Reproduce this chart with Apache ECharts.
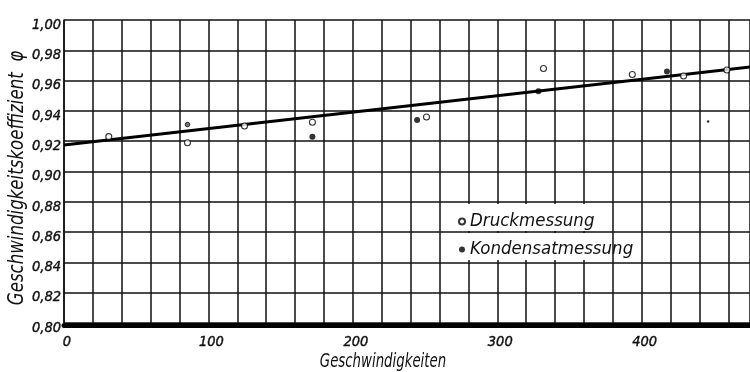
<!DOCTYPE html>
<html>
<head>
<meta charset="utf-8">
<script src="https://cdn.jsdelivr.net/npm/echarts@6/dist/echarts.min.js"></script>
<style>
  html, body { margin: 0; padding: 0; background: #fff; }
  #chart { width: 750px; height: 372px; }
</style>
</head>
<body>
<div id="chart"></div>
<script>
// Velocity coefficient φ against velocity: pressure and condensate measurements
const xTickLabels = [0, 100, 200, 300, 400];
const druckPoints = [
  [31, 0.923], [85.5, 0.919], [125, 0.930], [172, 0.9325], [251, 0.936],
  [332, 0.968], [393.5, 0.964], [429, 0.963], [459, 0.967]
];
const druckSmallPoints = [[85.5, 0.931]];
const kondensatPoints = [[172, 0.923], [244.5, 0.934], [328.5, 0.953], [417.5, 0.966]];
const kondensatSmallPoints = [[446, 0.933]];
const fitLine = [[0, 0.9175], [475, 0.969]];
const xTitle = 'Geschwindigkeiten';
const yTitle = 'Geschwindigkeitskoeffizient  φ';

const FONT = '"DejaVu Sans Condensed", "DejaVu Sans", sans-serif';
const INK = '#111';

const chart = echarts.init(document.getElementById('chart'), null, { renderer: 'canvas' });

const option = {
  animation: false,
  backgroundColor: '#fff',
  grid: { left: 64, right: 0, top: 20, bottom: 49, containLabel: false, outerBoundsMode: 'none' },
  xAxis: {
    type: 'value', min: 0, max: 475, interval: 20,
    offset: 2.5,
    axisLine: { show: true, lineStyle: { color: '#000', width: 5 } },
    axisTick: { show: false },
    axisLabel: {
      margin: 9, fontFamily: FONT, fontStyle: 'italic', fontSize: 14.5, color: INK,
      textBorderColor: INK, textBorderWidth: 0.4,
      padding: [0, 0, 0, 6],
      showMaxLabel: false,
      formatter: v => xTickLabels.includes(v) ? String(v) : ''
    },
    splitLine: { show: true, lineStyle: { color: INK, width: 1.5 } }
  },
  yAxis: {
    type: 'value', min: 0.80, max: 1.00, interval: 0.02,
    axisLine: { show: true, lineStyle: { color: INK, width: 1.5 } },
    axisTick: { show: false },
    axisLabel: {
      margin: 3, fontFamily: FONT, fontStyle: 'italic', fontSize: 14.5, color: INK,
      textBorderColor: INK, textBorderWidth: 0.4,
      verticalAlign: 'top', lineHeight: 10,
      formatter: v => v.toFixed(2).replace('.', ',')
    },
    splitLine: { show: true, lineStyle: { color: INK, width: 1.5 } }
  },
  legend: {
    orient: 'vertical', left: 458, top: 212,
    itemWidth: 6, itemHeight: 6, itemGap: 9, padding: 0,
    data: ['Druckmessung', 'Kondensatmessung'],
    textStyle: { fontFamily: FONT, fontStyle: 'italic', fontSize: 18.5, color: INK, lineHeight: 19 }
  },
  series: [
    {
      name: 'Ausgleichsgerade', type: 'line', data: fitLine,
      symbol: 'none', lineStyle: { color: '#000', width: 3 }, z: 2
    },
    {
      name: 'Druckmessung', type: 'scatter', data: druckPoints,
      symbol: 'circle', symbolSize: 6,
      itemStyle: { color: '#fff', borderColor: '#000', borderWidth: 1.1 }, z: 3
    },
    {
      name: 'Druckmessung', type: 'scatter', data: druckSmallPoints,
      symbol: 'circle', symbolSize: 4.5,
      itemStyle: { color: '#555', borderColor: '#000', borderWidth: 1 }, z: 3
    },
    {
      name: 'Kondensatmessung', type: 'scatter', data: kondensatPoints,
      symbol: 'circle', symbolSize: 6,
      itemStyle: { color: '#000' }, z: 3
    },
    {
      name: 'Kondensatmessung', type: 'scatter', data: kondensatSmallPoints,
      symbol: 'circle', symbolSize: 2.5,
      itemStyle: { color: '#000' }, z: 3
    }
  ]
};

chart.setOption(option);

// White patch behind the legend (vertical grid lines cleared, the 0,86 line runs through)
// and the narrow, tall axis titles
const yMid = chart.convertToPixel({ yAxisIndex: 0 }, 0.86);
const titleStyle = { fill: INK, align: 'center', verticalAlign: 'middle' };
chart.setOption({
  graphic: [
    { type: 'rect', z: 1, silent: true, shape: { x: 456, y: 204, width: 147, height: yMid - 1 - 204 }, style: { fill: '#fff' } },
    { type: 'rect', z: 1, silent: true, shape: { x: 456, y: yMid + 1, width: 147, height: 260 - yMid - 1 }, style: { fill: '#fff' } },
    { type: 'text', z: 5, silent: true, x: 383, y: 362, scaleX: 0.74,
      style: Object.assign({ text: xTitle, font: 'italic 20px ' + FONT }, titleStyle) },
    { type: 'text', z: 5, silent: true, x: 18, y: 178, rotation: Math.PI / 2, scaleX: 0.88,
      style: Object.assign({ text: yTitle, font: 'italic 21px ' + FONT }, titleStyle) }
  ]
});
</script>
</body>
</html>
